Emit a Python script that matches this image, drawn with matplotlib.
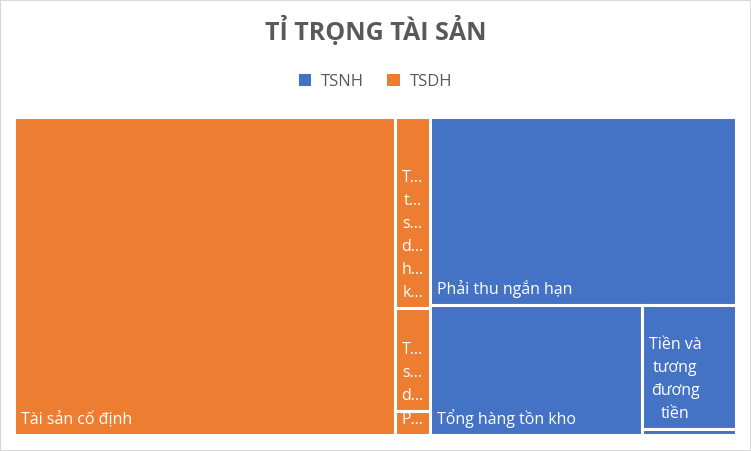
import matplotlib
matplotlib.use("Agg")
import matplotlib.pyplot as plt
from matplotlib.patches import Rectangle, Patch

plt.rcParams['font.family'] = ['Open Sans', 'DejaVu Sans']

# data (relative sizes)
groups = ["TSDH", "TSNH"]
group_colors = {"TSNH": "#4472C4", "TSDH": "#ED7D31"}
tsdh_names = ["Tài sản cố định", "T…\nt…\ns…\nd…\nh…\nk…", "T…\ns…\nd…", "P…"]
tsdh_values = [1210, 66.7, 36.2, 8.4]
tsnh_names = ["Phải thu ngắn hạn", "Tổng hàng tồn kho", "Tiền và\ntương\nđương\ntiền", ""]
tsnh_values = [576, 276, 116, 6.1]


def worst(row, side):
    s = sum(row)
    return max(max(side * side * r / (s * s), s * s / (side * side * r)) for r in row)


def squarify(values, x, y, w, h):
    # values already scaled so that sum == w*h
    rects = []
    vals = list(values)
    while vals:
        side = min(w, h)
        row = [vals[0]]
        i = 1
        while i < len(vals) and worst(row + [vals[i]], side) <= worst(row, side):
            row.append(vals[i])
            i += 1
        s = sum(row)
        if w >= h:
            cw = s / h
            yy = y
            for r in row:
                rects.append((x, yy, cw, r / cw))
                yy += r / cw
            x += cw
            w -= cw
        else:
            ch = s / w
            xx = x
            for r in row:
                rects.append((xx, y, r / ch, ch))
                xx += r / ch
            y += ch
            h -= ch
        vals = vals[i:]
    return rects


W, H = 722.0, 318.0
fig = plt.figure(figsize=(7.51, 4.51), dpi=100)
ax = fig.add_axes([14 / 751, 16 / 451, W / 751, H / 451])
ax.set_xlim(0, W)
ax.set_ylim(H, 0)
ax.axis("off")

totals = [sum(tsdh_values), sum(tsnh_values)]
scale = W * H / sum(totals)
group_rects = squarify([t * scale for t in totals], 0, 0, W, H)

members = {"TSDH": (tsdh_names, tsdh_values), "TSNH": (tsnh_names, tsnh_values)}
for g, (gx, gy, gw, gh) in zip(groups, group_rects):
    names, vals = members[g]
    rects = squarify([v * scale for v in vals], gx, gy, gw, gh)
    for name, (rx, ry, rw, rh) in zip(names, rects):
        ax.add_patch(Rectangle((rx, ry), rw, rh, facecolor=group_colors[g],
                               edgecolor="white", linewidth=2.2))
        if name:
            ax.text(rx + 7, ry + rh - 7, name, color="white", fontsize=11.5,
                    ha="left", va="bottom", multialignment="center",
                    linespacing=1.57)

fig.text(0.5, 1 - 31 / 451, "TỈ TRỌNG TÀI SẢN", ha="center", va="center",
         fontsize=18, fontweight="bold", color="#595959")

handles = [Patch(facecolor=group_colors["TSNH"], label="TSNH"),
           Patch(facecolor=group_colors["TSDH"], label="TSDH")]
fig.legend(handles=handles, loc="center", bbox_to_anchor=(0.5, 1 - 82 / 451),
           ncol=2, frameon=False, fontsize=12, handlelength=0.75,
           handleheight=0.75, handletextpad=0.6, columnspacing=1.4,
           labelcolor="#595959")

fig.add_artist(Rectangle((0, 0), 1, 1, transform=fig.transFigure, fill=False,
                         edgecolor="#D9D9D9", linewidth=1.5))

fig.savefig("out.png", dpi=100)
